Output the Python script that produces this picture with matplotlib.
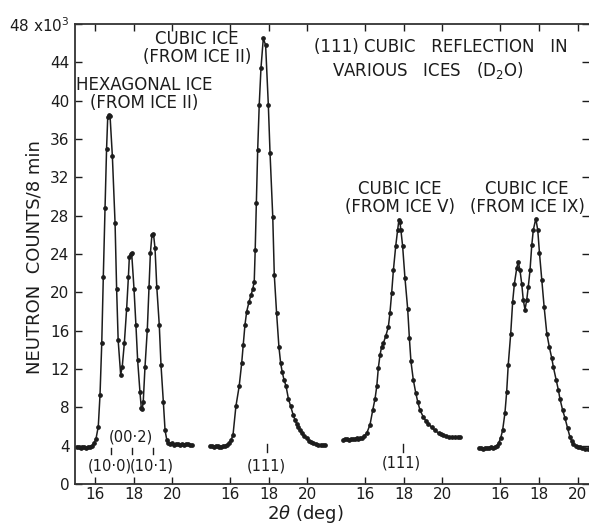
import matplotlib
matplotlib.use("Agg")
import matplotlib.pyplot as plt
import numpy as np

plt.rcParams['font.family'] = ['DejaVu Sans']
plt.rcParams['mathtext.fontset'] = 'dejavusans'

# ---------------- data (2theta in deg, counts in units of 10^3 per 8 min) ----------------
hex_2theta = [15.05, 15.15, 15.25, 15.35, 15.45, 15.55, 15.65, 15.75, 15.85, 15.95,
              16.05, 16.17, 16.26, 16.35, 16.43, 16.52, 16.60, 16.66, 16.72, 16.78,
              16.90, 17.04, 17.12, 17.20, 17.33, 17.41, 17.52, 17.64, 17.73, 17.78,
              17.85, 17.90, 18.02, 18.12, 18.21, 18.33, 18.40, 18.45, 18.50, 18.59,
              18.71, 18.80, 18.87, 18.95, 19.03, 19.11, 19.20, 19.33, 19.42, 19.54,
              19.63, 19.72, 19.80, 19.90, 20.00, 20.10, 20.20, 20.30, 20.40, 20.50,
              20.60, 20.70, 20.80, 20.90, 21.00]
hex_counts = [3.9, 3.9, 3.8, 3.9, 3.9, 3.8, 3.9, 3.9, 4.0, 4.3,
              4.7, 6.0, 9.3, 14.7, 21.6, 28.8, 35.0, 38.3, 38.5, 38.4,
              34.2, 27.2, 20.4, 15.0, 11.4, 12.2, 14.7, 18.3, 21.6, 23.7,
              24.0, 24.1, 20.4, 16.6, 12.9, 9.6, 7.9, 7.8, 8.6, 12.2,
              16.1, 20.6, 24.1, 26.0, 26.1, 24.6, 20.6, 16.6, 12.4, 8.6,
              5.6, 4.6, 4.3, 4.2, 4.3, 4.1, 4.2, 4.2, 4.1, 4.2,
              4.1, 4.2, 4.2, 4.1, 4.1]

iceII_2theta = [14.95, 15.05, 15.15, 15.25, 15.35, 15.45, 15.55, 15.65, 15.75, 15.85, 15.95,
                16.05, 16.15, 16.30, 16.47, 16.60, 16.68, 16.77, 16.86, 16.98, 17.08,
                17.17, 17.25, 17.30, 17.36, 17.43, 17.51, 17.60, 17.72, 17.84, 17.98,
                18.07, 18.21, 18.29, 18.41, 18.53, 18.62, 18.70, 18.79, 18.90, 19.02,
                19.14, 19.27, 19.36, 19.45, 19.54, 19.62, 19.72, 19.82, 19.97, 20.10,
                20.20, 20.31, 20.45, 20.58, 20.70, 20.83, 20.92]
iceII_counts = [4.0, 4.0, 3.9, 4.0, 4.0, 3.9, 3.9, 4.0, 4.0, 4.1, 4.3,
                4.6, 5.1, 8.1, 10.2, 12.6, 14.5, 16.6, 18.0, 19.0, 19.7,
                20.3, 21.1, 24.4, 29.3, 34.9, 39.6, 43.4, 46.5, 45.8, 39.6,
                34.5, 27.9, 21.8, 17.8, 14.3, 12.6, 11.7, 10.9, 10.2, 8.9,
                8.1, 7.2, 6.7, 6.3, 5.9, 5.6, 5.3, 5.0, 4.8, 4.5,
                4.4, 4.3, 4.2, 4.1, 4.1, 4.1, 4.1]

iceV_2theta = [14.85, 14.95, 15.05, 15.15, 15.25, 15.35, 15.45, 15.55, 15.65, 15.75, 15.85, 15.95,
               16.08, 16.25, 16.39, 16.51, 16.60, 16.68, 16.77, 16.85, 16.94, 17.06,
               17.20, 17.28, 17.37, 17.46, 17.58, 17.68, 17.75, 17.80, 17.85, 17.94,
               18.06, 18.20, 18.29, 18.37, 18.49, 18.62, 18.72, 18.84, 19.01, 19.14,
               19.27, 19.45, 19.62, 19.80, 19.95, 20.05, 20.20, 20.35, 20.50, 20.65,
               20.80, 20.92]
iceV_counts = [4.6, 4.7, 4.7, 4.6, 4.7, 4.7, 4.7, 4.8, 4.7, 4.8, 4.8, 5.0,
               5.3, 6.2, 7.7, 8.9, 10.2, 12.1, 13.5, 14.3, 14.7, 15.4,
               16.4, 17.8, 19.9, 22.3, 24.8, 26.5, 27.6, 27.3, 26.5, 24.8,
               21.5, 18.3, 15.2, 12.8, 10.9, 9.5, 8.6, 7.7, 7.0, 6.6,
               6.3, 5.9, 5.6, 5.3, 5.2, 5.1, 5.0, 4.9, 4.9, 4.9,
               4.9, 4.9]

iceIX_2theta = [14.92, 15.02, 15.12, 15.22, 15.32, 15.42, 15.52, 15.62, 15.72, 15.82, 15.92,
                16.02, 16.12, 16.24, 16.33, 16.41, 16.54, 16.64, 16.73, 16.85, 16.93,
                17.02, 17.11, 17.19, 17.28, 17.37, 17.45, 17.54, 17.63, 17.71, 17.84,
                17.94, 18.03, 18.15, 18.27, 18.41, 18.54, 18.67, 18.75, 18.89, 19.01,
                19.09, 19.23, 19.35, 19.49, 19.61, 19.70, 19.78, 19.90, 20.02, 20.13,
                20.25, 20.40, 20.56]
iceIX_counts = [3.8, 3.8, 3.7, 3.8, 3.8, 3.8, 3.9, 3.8, 3.9, 4.0, 4.3,
                4.8, 5.6, 7.4, 9.6, 12.4, 15.7, 19.0, 20.9, 22.5, 23.2,
                22.3, 20.9, 19.2, 18.2, 19.2, 20.6, 22.3, 24.9, 26.5, 27.7,
                26.5, 24.1, 21.3, 18.5, 15.7, 14.3, 13.1, 12.2, 10.9, 9.8,
                8.9, 7.7, 6.9, 5.8, 4.9, 4.5, 4.2, 4.0, 3.9, 3.9,
                3.8, 3.7, 3.7]

panel_labels = ["HEXAGONAL ICE\n(FROM ICE II)", "CUBIC ICE\n(FROM ICE II)",
                "CUBIC ICE\n(FROM ICE V)", "CUBIC ICE\n(FROM ICE IX)"]
tick_values = [16, 18, 20]
tick_labels = ["16", "18", "20"]

hex_refl_pos = [16.83, 17.92, 19.00]
hex_refl_names = ["(10·0)", "(00·2)", "(10·1)"]
cubic_refl_pos = [17.91, 17.94]   # (111) in panels 2 and 3

# ---------------- layout ----------------
W, H = 589, 527
PXDEG = 19.3
X16 = 95
panel_offset = [0, 7, 14, 21]

def xd(px):
    return 16 + (px - X16) / PXDEG

def yd(py):
    return (484 - py) / 9.58

fig = plt.figure(figsize=(W / 100, H / 100), dpi=100)
fig.patch.set_facecolor('white')
ax = fig.add_axes([75 / W, (H - 484) / H, (W - 75) / W, (484 - 24) / H])
ax.set_xlim(xd(75), xd(589))
ax.set_ylim(0, 48)

ink = '#1c1c1c'
series = [(hex_2theta, hex_counts), (iceII_2theta, iceII_counts),
          (iceV_2theta, iceV_counts), (iceIX_2theta, iceIX_counts)]
for (x, y), off in zip(series, panel_offset):
    ax.plot(np.array(x) + off, y, '-o', color=ink, lw=1.1, ms=2.4, mfc=ink, mec=ink)

xt, xl = [], []
for off in panel_offset:
    for v, l in zip(tick_values, tick_labels):
        xt.append(v + off)
        xl.append(l)
ax.set_xticks(xt)
ax.set_xticklabels(xl)
yt = list(range(0, 49, 4))
ax.set_yticks(yt)
ax.set_yticklabels([str(v) for v in yt[:-1]] + ["48 x10$^3$"])
ax.tick_params(direction='in', length=5, width=1.0, top=True, right=True,
               labelsize=11, pad=4, colors=ink)
ax.tick_params(axis='x', pad=2.5)
for s in ['left', 'bottom', 'top']:
    ax.spines[s].set_linewidth(1.3)
    ax.spines[s].set_color('#333333')
ax.spines['right'].set_visible(False)

# ---------------- annotations ----------------
fs = 12
ax.text(xd(144), yd(94), panel_labels[0], ha='center', va='center', fontsize=fs,
        linespacing=1.0, color=ink)
ax.text(xd(197), yd(48.5), panel_labels[1], ha='center', va='center', fontsize=fs,
        linespacing=1.0, color=ink)
ax.text(xd(400), yd(198), panel_labels[2], ha='center', va='center', fontsize=fs,
        linespacing=1.0, color=ink)
ax.text(xd(527), yd(198), panel_labels[3], ha='center', va='center', fontsize=fs,
        linespacing=1.0, color=ink)
ax.text(xd(441), yd(47), "(111) CUBIC   REFLECTION   IN", ha='center', va='center',
        fontsize=fs, color=ink)
ax.text(xd(428), yd(71), "VARIOUS   ICES   (D$_2$O)", ha='center', va='center',
        fontsize=fs, color=ink)

# reflection markers
for p in hex_refl_pos:
    ax.plot([p, p], [3.1, 3.8], color=ink, lw=1.0)
ax.text(xd(110), yd(466), hex_refl_names[0], ha='center', va='center', fontsize=10.5, color=ink)
ax.text(xd(131), yd(437), hex_refl_names[1], ha='center', va='center', fontsize=10.5, color=ink)
ax.text(xd(152), yd(466), hex_refl_names[2], ha='center', va='center', fontsize=10.5, color=ink)
for p, off, ty in zip(cubic_refl_pos, panel_offset[1:3], [466, 463]):
    ax.plot([p + off, p + off], [3.3, 4.2], color=ink, lw=1.0)
    ax.text(p + off - 0.05, yd(ty), "(111)", ha='center', va='center', fontsize=10.5, color=ink)

fig.text(34.5 / W, 1 - 257 / H, "NEUTRON  COUNTS/8 min", rotation=90,
         ha='center', va='center', fontsize=13, color=ink)
fig.text(305 / W, 1 - 514 / H, "2$\\theta$ (deg)", ha='center', va='center',
         fontsize=13, color=ink)

fig.savefig("out.png", dpi=100, facecolor='white')
